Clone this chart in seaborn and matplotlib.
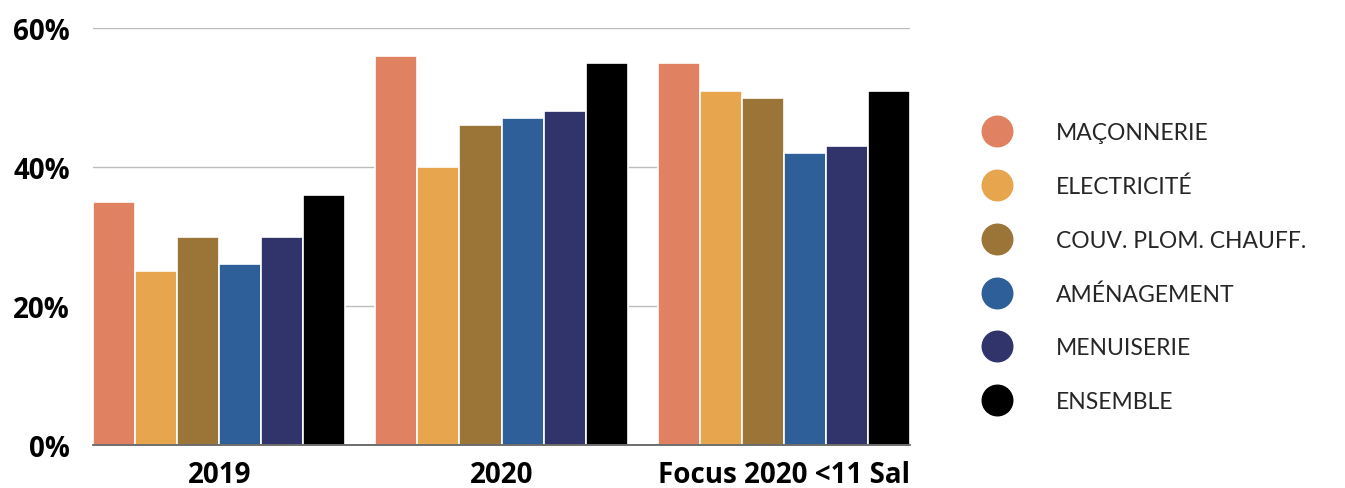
import matplotlib
matplotlib.use("Agg")
import matplotlib.pyplot as plt
from matplotlib.lines import Line2D
import seaborn as sns
import pandas as pd

categories = ["2019", "2020", "Focus 2020 <11 Sal"]
series = ["MAÇONNERIE", "ELECTRICITÉ", "COUV. PLOM. CHAUFF.", "AMÉNAGEMENT", "MENUISERIE", "ENSEMBLE"]
maconnerie = [35, 56, 55]
electricite = [25, 40, 51]
couv = [30, 46, 50]
amenagement = [26, 47, 42]
menuiserie = [30, 48, 43]
ensemble = [36, 55, 51]
colors = ["#E08262", "#E7A54D", "#9B7437", "#2E5F98", "#30346B", "#000000"]
yticks = [0, 20, 40, 60]
ytick_labels = ["0%", "20%", "40%", "60%"]

values = [maconnerie, electricite, couv, amenagement, menuiserie, ensemble]
rows = []
for s, vals in zip(series, values):
    for c, v in zip(categories, vals):
        rows.append({"cat": c, "series": s, "val": v})
df = pd.DataFrame(rows)

sns.set_theme(style="white")
plt.rcParams["font.family"] = ["Open Sans", "DejaVu Sans"]

fig = plt.figure(figsize=(13.45, 4.89), dpi=100)
ax = fig.add_axes([93/1345, 1-446/489, (910-93)/1345, (446-29)/489])

sns.barplot(data=df, x="cat", y="val", hue="series", order=categories,
            hue_order=series, palette=colors, width=0.894, saturation=1,
            edgecolor="white", linewidth=1.2, ax=ax, legend=False, zorder=3)

ax.set_ylim(0, 60)
ax.set_xlim(-0.447, 2.447)
ax.set_yticks(yticks)
ax.set_yticklabels(ytick_labels, fontsize=20, fontweight="bold", color="black")
ax.set_xlabel("")
ax.set_ylabel("")
for lab in ax.get_xticklabels():
    lab.set_fontsize(20)
    lab.set_fontweight("bold")
    lab.set_color("black")
ax.tick_params(axis="y", length=0, pad=16.5)
ax.tick_params(axis="x", length=0, pad=11)
for sp in ["left", "right", "top"]:
    ax.spines[sp].set_visible(False)
ax.spines["bottom"].set_color("#555555")
ax.spines["bottom"].set_linewidth(1.2)
ax.spines["bottom"].set_zorder(4)
ax.yaxis.grid(True, color="#bdbdbd", linewidth=1)
ax.set_axisbelow(True)

handles = [Line2D([0], [0], marker="o", linestyle="", markersize=22,
                  markerfacecolor=c, markeredgecolor=c) for c in colors]
leg = fig.legend(handles, series, loc="center left",
                 bbox_to_anchor=(965/1345, 1-268/489), frameon=False,
                 prop={"family": "Lato", "size": 16.5},
                 labelspacing=1.42, handletextpad=1.55, borderaxespad=0)

fig.savefig("out.png", dpi=100)
